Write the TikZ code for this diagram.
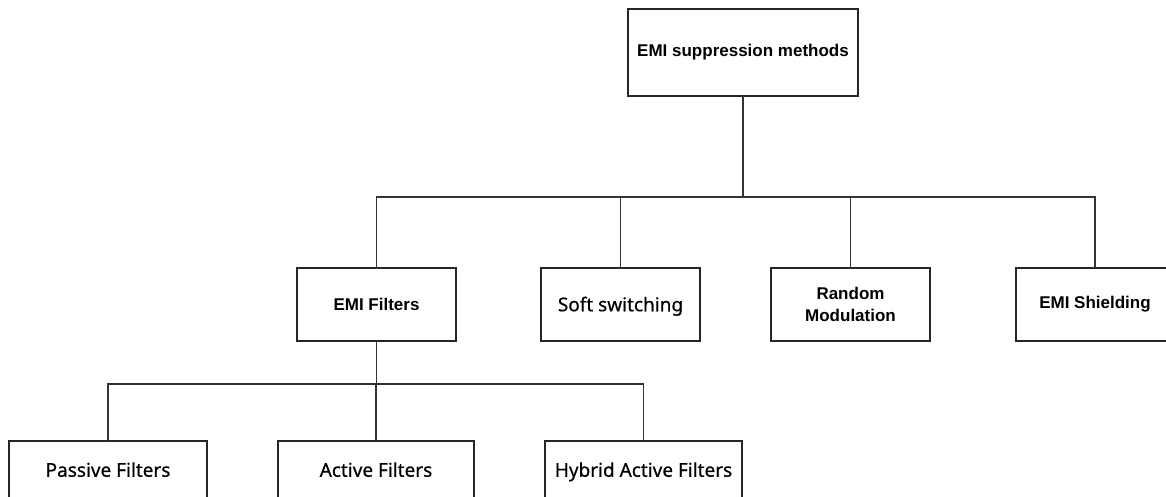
\documentclass[tikz,border=0pt]{standalone}
\usepackage{fontspec}
\setmainfont{Liberation Sans}
\newfontfamily\yhfont[FakeBold=0.5]{Noto Sans}
\begin{document}
\begin{tikzpicture}[x=1pt,y=-1pt,
  every node/.style={inner sep=0pt, outer sep=0pt},
  boxA/.style={draw=black!85, line width=1.4pt, fill=white, align=center,
    font=\fontsize{17}{22}\selectfont\bfseries},
  boxB/.style={draw=black!85, line width=1.4pt, fill=white, align=center,
    text height=17.5pt, text depth=4pt,
    font=\yhfont\fontsize{19}{22}\selectfont},
  conn/.style={draw=black!80, line width=1.4pt}]
\path[use as bounding box] (0,0) rectangle (1166,497);
\clip (0,0) rectangle (1166,497);
\fill[white] (0,0) rectangle (1166,497);
% nodes
\node[boxA, minimum width=230, minimum height=87] (top) at (743,52.5) {EMI suppression methods};
\node[boxA, minimum width=159, minimum height=73] (emif) at (376.5,304.5) {EMI Filters};
\node[boxB, minimum width=159, minimum height=73] (soft) at (620.5,304.5) {Soft switching};
\node[boxA, minimum width=159, minimum height=73] (rand) at (850.5,304.5) {Random\\Modulation};
\node[boxA, minimum width=158, minimum height=73] (shield) at (1095,304.5) {EMI Shielding};
\node[boxB, minimum width=198, minimum height=58] (pass) at (108,470) {Passive Filters};
\node[boxB, minimum width=196, minimum height=58] (act) at (376,470) {Active Filters};
\node[boxB, minimum width=197, minimum height=58] (hyb) at (643.5,470) {Hybrid Active Filters};
% bus points
\coordinate (b1) at (743,197);
\coordinate (b2) at (376.5,384);
% connectors
\draw[conn] (top.south) -- (b1);
\draw[conn] (emif.north) |- (b1);
\draw[conn] (soft.north) |- (b1);
\draw[conn] (rand.north) |- (b1);
\draw[conn] (shield.north) |- (b1);
\draw[conn] (emif.south) -- (b2);
\draw[conn] (pass.north) |- (b2);
\draw[conn] (act.north) |- (b2);
\draw[conn] (hyb.north) |- (b2);
\end{tikzpicture}
\end{document}
